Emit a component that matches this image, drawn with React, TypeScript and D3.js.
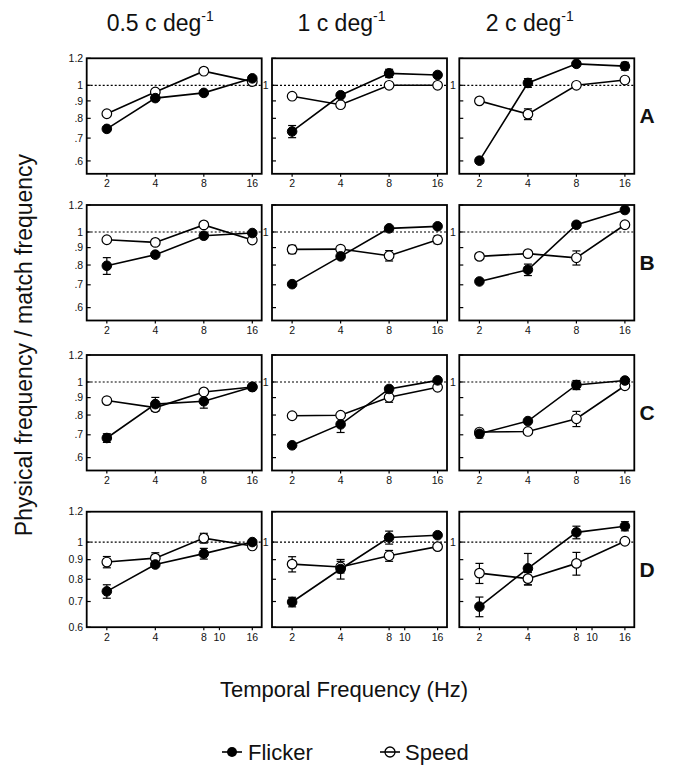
import React from "react";
import * as d3 from "d3";

const freqs = [2, 4, 8, 16];
const spatialTitles = ["0.5", "1", "2"];
const rowLabels = ["A", "B", "C", "D"];

const flickerA = [[0.745, 0.917, 0.95, 1.048], [0.732, 0.935, 1.084, 1.072], [0.601, 1.016, 1.156, 1.138]];
const speedA = [[0.825, 0.956, 1.1, 1.025], [0.929, 0.877, 1.0, 1.0], [0.9, 0.823, 1.0, 1.036]];
const flickerErrA = [[0.01, 0.01, 0.01, 0.01], [0.03, 0.01, 0.03, 0.01], [0.01, 0.03, 0.01, 0.03]];
const speedErrA = [[0, 0, 0, 0], [0, 0, 0, 0], [0, 0.03, 0, 0]];

const flickerB = [[0.796, 0.858, 0.975, 0.993], [0.703, 0.848, 1.025, 1.039], [0.716, 0.775, 1.05, 1.16]];
const speedB = [[0.949, 0.932, 1.049, 0.947], [0.889, 0.891, 0.852, 0.949], [0.848, 0.864, 0.84, 1.05]];
const flickerErrB = [[0.045, 0, 0, 0], [0, 0, 0, 0], [0, 0.03, 0, 0]];
const speedErrB = [[0, 0, 0, 0], [0.025, 0, 0.03, 0.025], [0, 0, 0.04, 0]];

const flickerC = [[0.685, 0.861, 0.878, 0.967], [0.652, 0.751, 0.954, 1.011], [0.705, 0.768, 0.98, 1.01]];
const speedC = [[0.882, 0.841, 0.935, 0.967], [0.796, 0.799, 0.902, 0.965], [0.713, 0.716, 0.78, 0.975]];
const flickerErrC = [[0.02, 0.04, 0.04, 0], [0, 0.04, 0, 0], [0.02, 0, 0.03, 0]];
const speedErrC = [[0, 0, 0, 0], [0, 0, 0.03, 0], [0, 0, 0.04, 0]];

const flickerD = [[0.744, 0.874, 0.933, 1.0], [0.698, 0.851, 1.028, 1.042], [0.679, 0.854, 1.06, 1.1]];
const speedD = [[0.887, 0.908, 1.024, 0.977], [0.876, 0.861, 0.921, 0.973], [0.83, 0.803, 0.88, 1.005]];
const flickerErrD = [[0.03, 0.01, 0.03, 0.01], [0.02, 0.05, 0.04, 0], [0.04, 0.08, 0.04, 0.03]];
const speedErrD = [[0.03, 0.03, 0.03, 0], [0.04, 0.03, 0.03, 0], [0.05, 0.03, 0.06, 0]];

const yTicksABC = [0.6, 0.7, 0.8, 0.9, 1, 1.2];
const yTickLabelsABC = [".6", ".7", ".8", ".9", "1", "1.2"];
const yTicksD = [0.6, 0.7, 0.8, 0.9, 1, 1.2];
const yTickLabelsD = ["0.6", "0.7", "0.8", "0.9", "1", "1.2"];
const xTicksABC = [2, 4, 8, 16];
const xTicksD = [2, 4, 8, 10, 16];

const flickerRows = [flickerA, flickerB, flickerC, flickerD];
const speedRows = [speedA, speedB, speedC, speedD];
const flickerErrRows = [flickerErrA, flickerErrB, flickerErrC, flickerErrD];
const speedErrRows = [speedErrA, speedErrB, speedErrC, speedErrD];

const FONT = "'Liberation Sans', Arial, Helvetica, sans-serif";
const colLefts = [86.7, 272, 459.3];
const rowTops = [58.3, 205, 355, 511.7];
const titleShift = [-14, -18, -17];
const PW = 175;
const PH = 115.5;

function Panel({ r, c }: { r: number; c: number }) {
  const x0 = colLefts[c];
  const y0 = rowTops[r];
  const isD = r === 3;
  const x = d3.scaleLog().base(2).domain([1.5, 18.3]).range([0, PW]);
  const y = d3.scaleLog().domain(isD ? [0.6, 1.2] : [0.55, 1.2]).range([PH, 0]);
  const line = d3
    .line<number>()
    .x((_, i) => x(freqs[i]))
    .y((d) => y(d));
  const fl = flickerRows[r][c];
  const sp = speedRows[r][c];
  const fe = flickerErrRows[r][c];
  const se = speedErrRows[r][c];
  const yTicks = isD ? yTicksD : yTicksABC;
  const yLabels = isD ? yTickLabelsD : yTickLabelsABC;
  const xTicks = isD ? xTicksD : xTicksABC;

  const errBars = (vals: number[], errs: number[], key: string) =>
    vals.map((v, i) =>
      errs[i] > 0 ? (
        <g key={key + i} stroke="#000" strokeWidth={1.2}>
          <line x1={x(freqs[i])} x2={x(freqs[i])} y1={y(v - errs[i])} y2={y(v + errs[i])} />
          <line x1={x(freqs[i]) - 4} x2={x(freqs[i]) + 4} y1={y(v - errs[i])} y2={y(v - errs[i])} />
          <line x1={x(freqs[i]) - 4} x2={x(freqs[i]) + 4} y1={y(v + errs[i])} y2={y(v + errs[i])} />
        </g>
      ) : null
    );

  return (
    <g transform={`translate(${x0},${y0})`}>
      <line x1={0} x2={PW} y1={y(1)} y2={y(1)} stroke="#000" strokeWidth={1.2} strokeDasharray="2,2" />
      {yTicks.map((t, i) => (
        <g key={"yt" + i}>
          <line x1={0} x2={4} y1={y(t)} y2={y(t)} stroke="#000" strokeWidth={1.2} />
          {(c === 0 || t === 1) && (
            <text x={-3.5} y={y(t)} dy="0.35em" textAnchor="end" fontSize={10.5} fontFamily={FONT} fill="#111">
              {yLabels[i]}
            </text>
          )}
        </g>
      ))}
      {xTicks.map((t, i) => (
        <g key={"xt" + i}>
          <line x1={x(t)} x2={x(t)} y1={PH} y2={PH + 3} stroke="#000" strokeWidth={1.2} />
          <text x={x(t)} y={PH + 13.5} textAnchor="middle" fontSize={10.5} fontFamily={FONT} fill="#111">
            {t}
          </text>
        </g>
      ))}
      <path d={line(sp) || ""} fill="none" stroke="#000" strokeWidth={1.6} />
      <path d={line(fl) || ""} fill="none" stroke="#000" strokeWidth={1.6} />
      {errBars(sp, se, "se")}
      {errBars(fl, fe, "fe")}
      {sp.map((v, i) => (
        <circle key={"s" + i} cx={x(freqs[i])} cy={y(v)} r={4.8} fill="#fff" stroke="#000" strokeWidth={1.2} />
      ))}
      {fl.map((v, i) => (
        <circle key={"f" + i} cx={x(freqs[i])} cy={y(v)} r={4.8} fill="#000" stroke="#000" strokeWidth={1} />
      ))}
      <rect x={0} y={0} width={PW} height={PH} fill="none" stroke="#000" strokeWidth={1.8} />
    </g>
  );
}

export default function App() {
  return (
    <svg
      width={683}
      height={770}
      style={{ position: "absolute", left: 0, top: 0, background: "#fff" }}
      fontFamily={FONT}
    >
      <rect width={683} height={770} fill="#fff" />
      {spatialTitles.map((s, c) => (
        <text key={"t" + c} x={colLefts[c] + PW / 2 + titleShift[c]} y={31} textAnchor="middle" fontSize={23} fill="#111">
          {s} c deg
          <tspan fontSize={14} dy={-10}>-1</tspan>
        </text>
      ))}
      {rowLabels.map((lab, r) => (
        <text key={"rl" + r} x={647} y={rowTops[r] + PH / 2} dy="0.35em" textAnchor="middle" fontSize={21} fontWeight="bold" fill="#111">
          {lab}
        </text>
      ))}
      {rowLabels.map((_, r) => spatialTitles.map((__, c) => <Panel key={r + "-" + c} r={r} c={c} />))}
      <text
        transform="translate(32,345) rotate(-90)"
        textAnchor="middle"
        fontSize={23}
        fill="#111"
      >
        Physical frequency / match frequency
      </text>
      <text x={344} y={697} textAnchor="middle" fontSize={22} fill="#111">
        Temporal Frequency (Hz)
      </text>
      <g>
        <line x1={222} x2={242} y1={752} y2={752} stroke="#000" strokeWidth={1.6} />
        <circle cx={232} cy={752} r={5} fill="#000" />
        <text x={248} y={752} dy="0.35em" fontSize={22} fill="#111">Flicker</text>
        <line x1={380} x2={400} y1={752} y2={752} stroke="#000" strokeWidth={1.6} />
        <circle cx={390} cy={752} r={5} fill="none" stroke="#000" strokeWidth={1.3} />
        <text x={405} y={752} dy="0.35em" fontSize={22} fill="#111">Speed</text>
      </g>
    </svg>
  );
}
